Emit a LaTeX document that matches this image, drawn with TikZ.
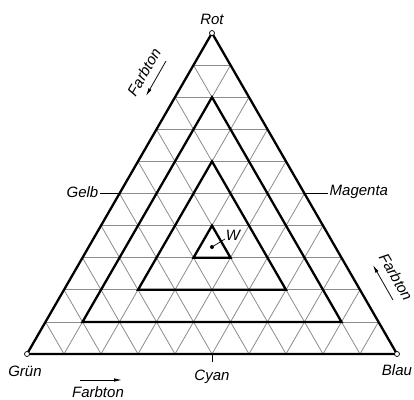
\documentclass[tikz,border=0pt]{standalone}
\usepackage{fontspec}
\setmainfont{Liberation Sans}
\usepackage{tikz}
\usetikzlibrary{arrows.meta,positioning}

\begin{document}
\begin{tikzpicture}[x=1bp, y=-1bp,
  every node/.style={font=\fontsize{15bp}{18bp}\selectfont\itshape},
  gridline/.style={draw=black!45, line width=0.8bp},
  frame/.style={draw, line width=2.3bp, line join=miter},
  tick/.style={draw, line width=0.7bp},
  corner/.style={draw, fill=white, line width=0.7bp},
  arr/.style={-{Latex[length=8bp, width=3.5bp]}, line width=0.8bp},
  lbl/.style={inner sep=1.5bp}
]
\useasboundingbox (0,0) rectangle (414,400);

% Eckpunkte
\coordinate (rot) at (212,33);
\coordinate (gruen) at (27,354);
\coordinate (blau) at (397,354);

% Dreiecksnetz, 10 Teilungen
\foreach \i in {1,...,9} {
  \draw[gridline] ({212-\i*18.5},{33+\i*32.1}) -- ({212+\i*18.5},{33+\i*32.1});
  \draw[gridline] ({212+\i*18.5},{33+\i*32.1}) -- ({212+(\i-5)*37},354);
  \draw[gridline] ({212-\i*18.5},{33+\i*32.1}) -- ({212+(5-\i)*37},354);
}

% Dreiecke gleicher Saettigung
\draw[frame] (rot) -- (gruen) -- (blau) -- cycle;
\coordinate (a2) at (212,{33+2*32.1});
\coordinate (b2) at ({212-3.5*37},{33+9*32.1});
\coordinate (c2) at ({212+3.5*37},{33+9*32.1});
\draw[frame] (a2) -- (b2) -- (c2) -- cycle;
\coordinate (a3) at (212,{33+4*32.1});
\coordinate (b3) at ({212-2*37},{33+8*32.1});
\coordinate (c3) at ({212+2*37},{33+8*32.1});
\draw[frame] (a3) -- (b3) -- (c3) -- cycle;
\coordinate (a4) at (212,{33+6*32.1});
\coordinate (b4) at ({212-0.5*37},{33+7*32.1});
\coordinate (c4) at ({212+0.5*37},{33+7*32.1});
\draw[frame] (a4) -- (b4) -- (c4) -- cycle;

% Weisspunkt
\coordinate (wp) at (212,{33+20/3*32.1});
\fill (wp) circle (2bp);
\node[lbl] (w) at (233,235) {W};
\draw[tick] (wp) -- (225,239);

% Eckfarben
\foreach \c in {rot,gruen,blau}
  \draw[corner] (\c) circle (2.5bp);
\node[lbl] (lrot) at (212,19) {Rot};
\node[lbl] (lgruen) at (25,371) {Grün};
\node[lbl] (lblau) at (397,370) {Blau};

% Mischfarben
\coordinate (gelb) at ({212-2.5*37},{33+5*32.1});
\coordinate (magenta) at ({212+2.5*37},{33+5*32.1});
\coordinate (cyan) at (212,354);
\node[lbl, anchor=east] (lgelb) at (100,192) {Gelb};
\node[lbl, anchor=west] (lmagenta) at (328,192) {Magenta};
\node[lbl] (lcyan) at (212,377) {Cyan};
\draw[tick] (gelb) -- (lgelb.east |- gelb);
\draw[tick] (magenta) -- (lmagenta.west |- magenta);
\draw[tick] (cyan) -- (212,362);

% Farbtonrichtung
\coordinate (f1a) at (166,61);
\coordinate (f1b) at (146,96);
\draw[arr] (f1a) -- (f1b);
\node[lbl, rotate=60] (f1) at (144,72) {Farbton};
\coordinate (f2a) at (80,380);
\coordinate (f2b) at (122,380);
\draw[arr] (f2a) -- (f2b);
\node[lbl] (f2) at (98,392) {Farbton};
\coordinate (f3a) at (393,300);
\coordinate (f3b) at (373,265);
\draw[arr] (f3a) -- (f3b);
\node[lbl, rotate=-60] (f3) at (396,277) {Farbton};
\end{tikzpicture}
\end{document}
